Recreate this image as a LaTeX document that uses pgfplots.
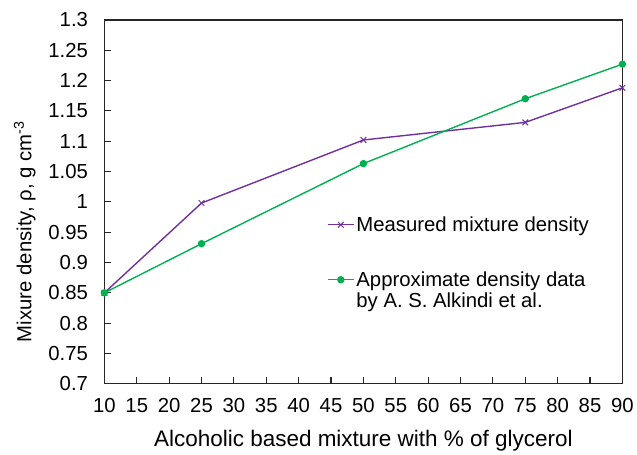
\documentclass[border=0pt]{standalone}
\usepackage{pgfplots}
\pgfplotsset{compat=1.18}
\usepackage{fontspec}
\setmainfont{Liberation Sans}
\definecolor{mpurple}{HTML}{7030A0}
\definecolor{mgreen}{HTML}{00B050}
\definecolor{axgray}{HTML}{262626}
\begin{document}
\begin{tikzpicture}
\begin{axis}[
  at={(0,0)}, anchor=south west,
  scale only axis, width=521bp, height=366bp,
  xmin=10, xmax=90, ymin=0.7, ymax=1.3,
  xtick={10,15,...,90},
  ytick={0.7,0.75,...,1.301},
  tick pos=left, tick align=inside,
  major tick length=7bp,
  axis line style={line width=1.3bp, axgray},
  tick style={line width=1.1bp, axgray},
  /pgf/number format/assume math mode=true,
  yticklabel style={/pgf/number format/fixed, /pgf/number format/precision=2,
    anchor=east, xshift=-13bp},
  xticklabel style={anchor=north, yshift=-11bp},
  every tick label/.append style={font=\fontsize{20.5}{23}\selectfont},
  xlabel={Alcoholic based mixture with \% of glycerol},
  ylabel={Mixure density, ρ, g cm\textsuperscript{-3}},
  xlabel style={font=\fontsize{22.7}{25}\selectfont, at={(axis description cs:0.5,0)}, anchor=base, yshift=-63bp},
  ylabel style={font=\fontsize{20.5}{23}\selectfont, at={(axis description cs:0,0.418)}, anchor=center, yshift=80bp},
  legend style={at={(0.424,0.471)}, anchor=north west, draw=none, fill=none,
    font=\fontsize{20.5}{21}\selectfont, row sep=35bp,
    cells={anchor=base west}, nodes={inner xsep=2bp}},
  legend image code/.code={
    \draw[mark repeat=2,mark phase=2,#1] plot coordinates {(0bp,6.5bp) (13bp,6.5bp) (26bp,6.5bp)};},
]
\addplot[color=mpurple, line width=1.4bp, mark=x, mark size=4bp, mark options={line width=1bp}]
  coordinates {(10,0.850) (25,0.998) (50,1.102) (75,1.131) (90,1.188)};
\addlegendentry{Measured mixture density}
\addplot[color=mgreen, line width=1.4bp, mark=*, mark size=3bp]
  coordinates {(10,0.850) (25,0.931) (50,1.063) (75,1.170) (90,1.227)};
\addlegendentry{\vtop{\hbox{Approximate density data}\hbox{by A. S. Alkindi et al.}}}
\end{axis}
\path (-105bp,-67bp) rectangle (532bp,386bp);
\end{tikzpicture}
\end{document}
